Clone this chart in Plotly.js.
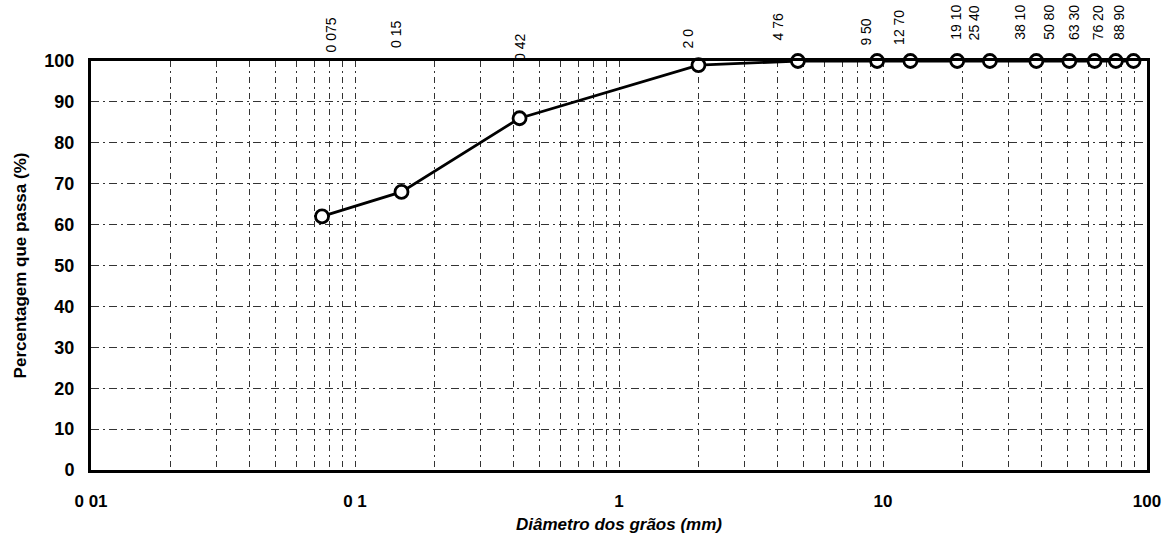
<!DOCTYPE html>
<html>
<head>
<meta charset="utf-8">
<script src="https://cdn.plot.ly/plotly-3.0.1.min.js"></script>
<style>html,body{margin:0;padding:0;background:#fff}#chart{width:1170px;height:538px}</style>
</head>
<body>
<div id="chart"></div>
<script>
// Sieve openings (mm) and percentage passing
const diameters = [0.075, 0.15, 0.42, 2.0, 4.76, 9.5, 12.7, 19.1, 25.4, 38.1, 50.8, 63.3, 76.2, 88.9];
const passing   = [62, 68, 86, 99, 100, 100, 100, 100, 100, 100, 100, 100, 100, 100];
const sieveLabels = ["0 075", "0 15", "0 42", "2 0", "4 76", "9 50", "12 70", "19 10", "25 40", "38 10", "50 80", "63 30", "76 20", "88 90"];

// Axis ticks
const decadeTicks = [0.01, 0.1, 1, 10, 100];
const decadeTickText = ["0 01", "0 1", "1", "10", "100"];
const yTicks = [0, 10, 20, 30, 40, 50, 60, 70, 80, 90, 100];

// style-only: label offsets (px) as placed on the scanned sheet
const labelXShift = [8, -6, 0, -10, -20, -12, -12, -2, -16, -17, -21, -21, -18, -15];
const labelYShift = [6, 11, -2, 11, 19, 13, 14, 19, 19, 19, 19, 19, 19, 19];

const FONT = '"Liberation Sans", Arial, sans-serif';

// all log grid positions (1..9 in each decade)
const gridVals = [];
const gridText = [];
for (let d = 0; d < decadeTicks.length - 1; d++) {
  for (let m = 1; m <= 9; m++) {
    const v = decadeTicks[d] * m;
    gridVals.push(v);
    gridText.push(m === 1 ? '<b>' + decadeTickText[d] + '</b>' : "");
  }
}
gridVals.push(decadeTicks[decadeTicks.length - 1]);
gridText.push('<b>' + decadeTickText[decadeTickText.length - 1] + '</b>');

const trace = {
  x: diameters,
  y: passing,
  type: 'scatter',
  mode: 'lines+markers',
  line: {color: '#000', width: 2.8},
  marker: {symbol: 'circle', size: 13, color: '#fff', line: {color: '#000', width: 2.8}},
  hoverinfo: 'x+y',
  cliponaxis: false,
  showlegend: false
};

const annotations = sieveLabels.map((t, i) => ({
  text: t,
  x: Math.log10(diameters[i]),
  xref: 'x',
  y: 1,
  yref: 'paper',
  xanchor: 'center',
  yanchor: 'bottom',
  textangle: -90,
  showarrow: false,
  xshift: labelXShift[i],
  yshift: labelYShift[i],
  font: {family: FONT, size: 14, color: '#000'}
}));

const layout = {
  width: 1170,
  height: 538,
  margin: {l: 91, r: 23, t: 61, b: 68},
  paper_bgcolor: '#fff',
  plot_bgcolor: '#fff',
  showlegend: false,
  xaxis: {
    type: 'log',
    range: [Math.log10(0.01), Math.log10(100)],
    tickmode: 'array',
    tickvals: gridVals,
    ticktext: gridText,
    ticks: '',
    showgrid: true,
    gridcolor: '#333',
    gridwidth: 1,
    griddash: '6px,4px,2px,4px',
    showline: true,
    linecolor: '#000',
    linewidth: 3,
    mirror: true,
    zeroline: false,
    tickfont: {family: FONT, size: 17, color: '#000'},
    ticklabelstandoff: 14,
    title: {text: '<b><i>Diâmetro dos grãos (mm)</i></b>', font: {family: FONT, size: 17, color: '#000'}, standoff: 8}
  },
  yaxis: {
    range: [0, 100],
    tickmode: 'array',
    tickvals: yTicks,
    ticktext: yTicks.map(v => '<b>' + v + '</b>'),
    ticks: '',
    showgrid: true,
    gridcolor: '#333',
    gridwidth: 1,
    griddash: '8px,4px,2px,4px',
    showline: true,
    linecolor: '#000',
    linewidth: 3,
    mirror: true,
    zeroline: false,
    tickfont: {family: FONT, size: 18, color: '#000'},
    ticklabelstandoff: 10,
    title: {text: '<b>Percentagem que passa (%)</b>', font: {family: FONT, size: 17, color: '#000'}, standoff: 14}
  },
  annotations: annotations,
  font: {family: FONT, color: '#000'}
};

Plotly.newPlot('chart', [trace], layout, {displayModeBar: false, staticPlot: true});
</script>
</body>
</html>
